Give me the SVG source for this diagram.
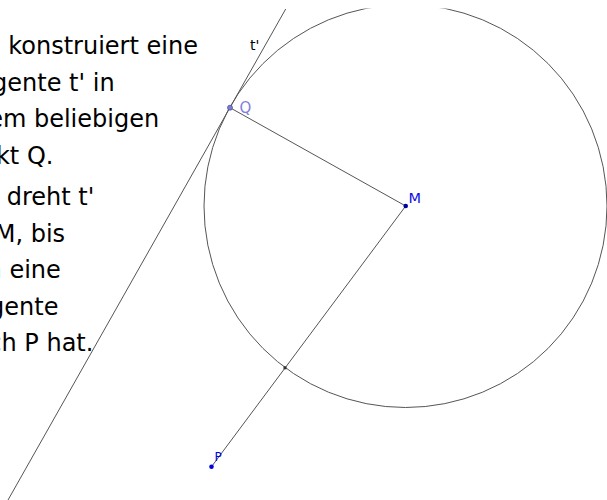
<svg xmlns="http://www.w3.org/2000/svg" width="607" height="500" viewBox="0 0 607 500">
<style>
.txt{font-family:"DejaVu Sans",sans-serif;font-size:24px;fill:#000}
.ln{stroke:#555;stroke-width:1;fill:none}
.lbl{font-family:"DejaVu Sans",sans-serif}
</style>
<defs>
<clipPath id="clip"><rect x="0" y="8.5" width="607" height="492"/></clipPath>
</defs>
<rect width="607" height="500" fill="#fff"/>
<g id="text1">
<text class="txt" x="-50" y="54">Man konstruiert eine</text>
<text class="txt" x="-48.5" y="90.5">Tangente t' in</text>
<text class="txt" x="-48.5" y="127">einem beliebigen</text>
<text class="txt" x="-48.5" y="163.5">Punkt Q.</text>
</g>
<g id="text2">
<text class="txt" x="-51.5" y="205">Man dreht t'</text>
<text class="txt" x="-51.5" y="241.5">um M, bis</text>
<text class="txt" x="-51.5" y="278">man eine</text>
<text class="txt" x="-51.5" y="314.5">Tangente</text>
<text class="txt" x="-51.5" y="351">durch P hat.</text>
</g>
<g id="connectors" clip-path="url(#clip)">
<circle class="ln" cx="405.5" cy="206" r="201.5"/>
<line class="ln" x1="285.7" y1="9" x2="8" y2="500"/>
<line class="ln" x1="230" y1="107.7" x2="405.7" y2="206"/>
<line class="ln" x1="405.7" y1="206" x2="211.5" y2="466.7"/>
</g>
<g id="t">
<text class="lbl" x="250" y="50" font-size="14" fill="#000">t'</text>
</g>
<g id="Q">
<circle cx="230" cy="107.7" r="2.5" fill="#7b7bd9" stroke="#5050a0" stroke-width="0.8"/>
<text class="lbl" x="239.5" y="112.5" font-size="15" fill="#7f7fdf">Q</text>
</g>
<g id="M">
<circle cx="405.7" cy="206" r="2.3" fill="#0000a0"/>
<text class="lbl" x="408.5" y="202.5" font-size="14.5" fill="#1010e0">M</text>
</g>
<g id="X">
<rect x="283.5" y="366.3" width="3" height="3" fill="#333"/>
</g>
<g id="P">
<circle cx="211.5" cy="466.7" r="2.3" fill="#0000e0"/>
<text class="lbl" x="214.5" y="460.8" font-size="12" fill="#0000e0">P</text>
</g>
</svg>
